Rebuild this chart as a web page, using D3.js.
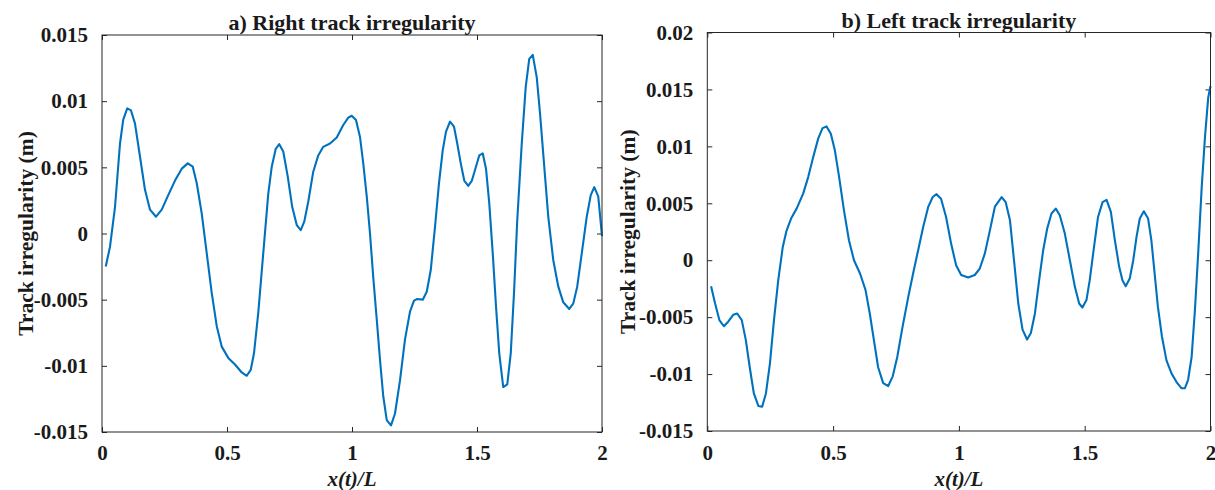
<!DOCTYPE html>
<html>
<head>
<meta charset="utf-8">
<script src="https://cdn.jsdelivr.net/npm/d3@7"></script>
<style>
  html, body { margin: 0; padding: 0; background: #fff; }
  svg { display: block; }
</style>
</head>
<body>
<svg id="chart" width="1215" height="490"></svg>
<script>
// Right rail: position along the track (x/L) and irregularity in metres
const rightX = [0.015,0.032,0.052,0.072,0.085,0.101,0.116,0.132,0.152,0.172,0.192,0.216,0.239,0.265,0.292,0.319,0.343,0.363,0.379,0.399,0.419,0.439,0.459,0.479,0.505,0.532,0.559,0.579,0.595,0.608,0.625,0.645,0.665,0.679,0.695,0.709,0.725,0.743,0.761,0.779,0.795,0.809,0.825,0.845,0.865,0.885,0.912,0.939,0.965,0.985,0.999,1.016,1.032,1.045,1.059,1.072,1.085,1.099,1.112,1.125,1.139,1.156,1.172,1.192,1.212,1.232,1.248,1.261,1.283,1.299,1.315,1.332,1.348,1.363,1.376,1.392,1.408,1.421,1.435,1.449,1.465,1.479,1.492,1.509,1.523,1.536,1.549,1.563,1.576,1.589,1.605,1.621,1.635,1.648,1.661,1.679,1.695,1.709,1.723,1.739,1.752,1.768,1.785,1.805,1.825,1.845,1.869,1.885,1.901,1.919,1.939,1.955,1.969,1.985,2.0];
const rightY = [-0.0025,-0.0010,0.0020,0.0068,0.0086,0.00945,0.0093,0.0083,0.0058,0.0033,0.0018,0.00127,0.0018,0.0029,0.0040,0.0049,0.0053,0.00505,0.0038,0.0015,-0.0015,-0.0045,-0.0070,-0.00855,-0.0094,-0.0099,-0.0105,-0.01075,-0.0103,-0.00905,-0.0060,-0.0015,0.0030,0.00505,0.0064,0.00675,0.0062,0.0043,0.0020,0.00064,0.00026,0.0009,0.0024,0.00467,0.0059,0.00655,0.0068,0.00725,0.0082,0.00875,0.0089,0.00857,0.0073,0.0053,0.0028,0.0000,-0.0033,-0.0065,-0.00955,-0.0123,-0.0141,-0.0145,-0.0136,-0.0111,-0.0080,-0.0059,-0.00507,-0.00495,-0.0050,-0.0044,-0.00276,0.0005,0.0038,0.0063,0.0077,0.00845,0.00807,0.0068,0.0053,0.0040,0.0036,0.00397,0.0048,0.0059,0.00605,0.0049,0.0023,-0.0015,-0.0055,-0.00905,-0.0116,-0.0114,-0.00905,-0.0045,0.0010,0.0068,0.0111,0.0132,0.0135,0.0118,0.0091,0.0053,0.00127,-0.0020,-0.0040,-0.0052,-0.0057,-0.0053,-0.0040,-0.0015,0.00127,0.0029,0.0035,0.0028,-0.0002];

// Left rail
const leftX = [0.015,0.031,0.048,0.066,0.083,0.103,0.119,0.137,0.153,0.170,0.185,0.203,0.218,0.233,0.249,0.265,0.282,0.300,0.315,0.333,0.355,0.381,0.401,0.421,0.441,0.458,0.474,0.491,0.507,0.524,0.543,0.563,0.583,0.607,0.629,0.646,0.662,0.679,0.699,0.719,0.737,0.755,0.776,0.799,0.818,0.838,0.858,0.878,0.896,0.911,0.929,0.949,0.969,0.989,1.009,1.037,1.063,1.083,1.103,1.123,1.143,1.170,1.186,1.203,1.219,1.236,1.253,1.271,1.286,1.302,1.319,1.335,1.351,1.368,1.385,1.401,1.421,1.441,1.461,1.478,1.491,1.507,1.520,1.536,1.553,1.571,1.587,1.604,1.620,1.637,1.650,1.663,1.679,1.693,1.706,1.719,1.735,1.752,1.765,1.778,1.791,1.807,1.825,1.845,1.865,1.885,1.898,1.911,1.925,1.938,1.951,1.965,1.978,1.991,2.0];
const leftY = [-0.00228,-0.0038,-0.00526,-0.0058,-0.0054,-0.0048,-0.00468,-0.00526,-0.0070,-0.0096,-0.0117,-0.0128,-0.01287,-0.0117,-0.00906,-0.00526,-0.00175,0.00117,0.0026,0.00366,0.00453,0.00585,0.0073,0.00906,0.0107,0.0116,0.01175,0.0111,0.00965,0.0073,0.0044,0.00175,0.0000,-0.00117,-0.00263,-0.0047,-0.0070,-0.0094,-0.0108,-0.01105,-0.0102,-0.0085,-0.00585,-0.0032,-0.00117,0.00088,0.00292,0.00468,0.00555,0.0058,0.0054,0.0038,0.00146,-0.00044,-0.0013,-0.00152,-0.0013,-0.00073,0.00058,0.0026,0.0047,0.00555,0.0051,0.0035,0.0000,-0.0038,-0.0061,-0.00696,-0.0064,-0.0047,-0.00175,0.00088,0.00278,0.0041,0.00453,0.00395,0.00234,0.0000,-0.00234,-0.0038,-0.00415,-0.0035,-0.00175,0.0010,0.0038,0.0051,0.0053,0.00424,0.00175,-0.00058,-0.00175,-0.00228,-0.0016,0.0000,0.00205,0.00366,0.0043,0.00366,0.00175,-0.00117,-0.0041,-0.0067,-0.0088,-0.00994,-0.0107,-0.01125,-0.01125,-0.0105,-0.0085,-0.0044,0.00058,0.0064,0.0108,0.0143,0.0153];

// Axis tick values and labels
const xTicks = [0, 0.5, 1, 1.5, 2];
const xTickLabels = ["0", "0.5", "1", "1.5", "2"];
const yTicksRight = [-0.015, -0.01, -0.005, 0, 0.005, 0.01, 0.015];
const yTickLabelsRight = ["-0.015", "-0.01", "-0.005", "0", "0.005", "0.01", "0.015"];
const yTicksLeft = [-0.015, -0.01, -0.005, 0, 0.005, 0.01, 0.015, 0.02];
const yTickLabelsLeft = ["-0.015", "-0.01", "-0.005", "0", "0.005", "0.01", "0.015", "0.02"];

const titles = ["a) Right track irregularity", "b) Left track irregularity"];
const xTitle = "x(t)/L";
const yTitle = "Track irregularity (m)";

const FONT = "'Liberation Serif', 'Times New Roman', Times, 'DejaVu Serif', serif";
const textColor = "#1a1a1a";

const svg = d3.select("#chart");

const panels = [
  { box: { l: 102, r: 602, t: 35, b: 432 }, yDomain: [-0.015, 0.015],
    xs: rightX, ys: rightY, yTicks: yTicksRight, yLabels: yTickLabelsRight,
    title: titles[0], titleY: 30, yTitleX: 33 },
  { box: { l: 707.3, r: 1210.5, t: 32.5, b: 431 }, yDomain: [-0.015, 0.02],
    xs: leftX, ys: leftY, yTicks: yTicksLeft, yLabels: yTickLabelsLeft,
    title: titles[1], titleY: 28, yTitleX: 635 }
];

const lineColor = "#0072BD";
const axisColor = "#262626";
const tickLen = 5;
const xTickBaseline = 460;

function styleText(sel, size) {
  return sel.style("font-family", FONT)
     .style("font-weight", "bold")
     .style("font-size", size + "px")
     .style("fill", textColor);
}

panels.forEach(p => {
  const { l, r, t, b } = p.box;
  const x = d3.scaleLinear().domain([0, 2]).range([l, r]);
  const y = d3.scaleLinear().domain(p.yDomain).range([b, t]);
  const g = svg.append("g");

  // Bottom and left axes with inward ticks, labels placed outside
  const xAxis = d3.axisBottom(x).tickValues(xTicks)
    .tickFormat((d, i) => xTickLabels[i]).tickSizeInner(-tickLen).tickSizeOuter(0);
  const gx = g.append("g").attr("transform", `translate(0,${b})`).call(xAxis);
  gx.select(".domain").remove();
  gx.selectAll(".tick line").attr("stroke", axisColor);
  styleText(gx.selectAll(".tick text").attr("y", xTickBaseline - b).attr("dy", 0), 21);

  const yAxis = d3.axisLeft(y).tickValues(p.yTicks)
    .tickFormat((d, i) => p.yLabels[i]).tickSizeInner(-tickLen).tickSizeOuter(0).tickPadding(14);
  const gy = g.append("g").attr("transform", `translate(${l},0)`).call(yAxis);
  gy.select(".domain").remove();
  gy.selectAll(".tick line").attr("stroke", axisColor);
  styleText(gy.selectAll(".tick text"), 21);

  // Mirrored ticks on top and right edges
  const gxTop = g.append("g").attr("transform", `translate(0,${t})`)
    .call(d3.axisTop(x).tickValues(xTicks).tickFormat("").tickSizeInner(-tickLen).tickSizeOuter(0));
  gxTop.select(".domain").remove();
  gxTop.selectAll(".tick line").attr("stroke", axisColor);
  const gyRight = g.append("g").attr("transform", `translate(${r},0)`)
    .call(d3.axisRight(y).tickValues(p.yTicks).tickFormat("").tickSizeInner(-tickLen).tickSizeOuter(0));
  gyRight.select(".domain").remove();
  gyRight.selectAll(".tick line").attr("stroke", axisColor);

  // Data line
  const line = d3.line().x(d => x(d[0])).y(d => y(d[1])).curve(d3.curveLinear);
  const pts = p.xs.map((v, i) => [v, p.ys[i]]);
  g.append("path").datum(pts)
    .attr("d", line)
    .attr("fill", "none")
    .attr("stroke", lineColor)
    .attr("stroke-width", 2.1)
    .attr("stroke-linejoin", "round");

  // Axes box
  g.append("rect")
    .attr("x", l).attr("y", t).attr("width", r - l).attr("height", b - t)
    .attr("fill", "none").attr("stroke", axisColor).attr("stroke-width", 1);

  // Titles
  styleText(g.append("text")
    .attr("x", (l + r) / 2).attr("y", p.titleY)
    .attr("text-anchor", "middle")
    .text(p.title), 22);

  styleText(g.append("text")
    .attr("x", (l + r) / 2).attr("y", 485.5)
    .attr("text-anchor", "middle")
    .text(xTitle), 21)
    .style("font-style", "italic");

  styleText(g.append("text")
    .attr("transform", `translate(${p.yTitleX},${(t + b) / 2}) rotate(-90)`)
    .attr("text-anchor", "middle")
    .text(yTitle), 21.5);
});
</script>
</body>
</html>
